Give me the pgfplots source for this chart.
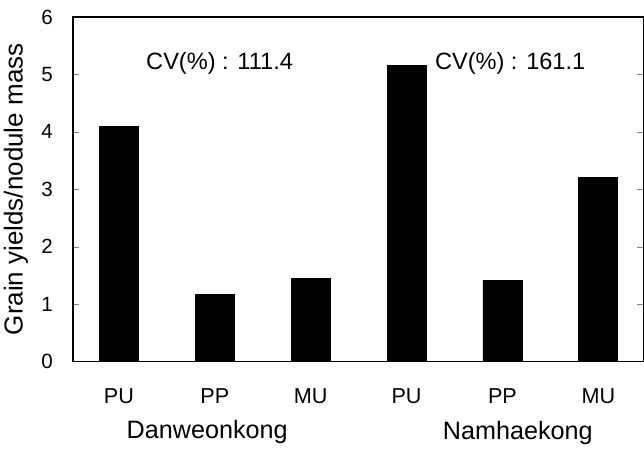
\documentclass[border=0pt]{standalone}
\usepackage{pgfplots}
\pgfplotsset{compat=1.18}
\usepackage{fontspec}
\setmainfont{Liberation Sans}
\begin{document}
\begin{tikzpicture}
\begin{axis}[
  scale only axis,
  width=285.5pt, height=172.5pt,
  xmin=-0.48, xmax=5.47,
  ymin=0, ymax=6,
  ytick={0,1,2,3,4,5,6},
  xtick={0,1,2,3,4,5},
  xticklabels={PU,PP,MU,PU,PP,MU},
  major x tick style={draw=none},
  tick align=inside,
  major tick length=3pt,
  /pgf/number format/assume math mode=true,
  yticklabel style={font=\fontsize{10.3}{13}\selectfont, xshift=-6.5pt},
  xticklabel style={font=\fontsize{10.8}{13}\selectfont, yshift=-10pt},
  axis line style={line width=0.6pt},
  clip=false,
]
\addplot[ybar, bar width=19.5pt, fill=black, draw=black] coordinates {
  (0,4.1) (1,1.17) (2,1.45) (3,5.15) (4,1.41) (5,3.2)
};
\node[font=\fontsize{11.8}{14}\selectfont] at (axis cs:1.05,5.2) {CV(\%) : 111.4};
\node[font=\fontsize{11.8}{14}\selectfont] at (axis cs:4.08,5.2) {CV(\%) : 161.1};
\node[font=\fontsize{12.6}{14}\selectfont, yshift=-35pt] at (axis cs:0.92,0) {Danweonkong};
\node[font=\fontsize{12.6}{14}\selectfont, yshift=-35.5pt] at (axis cs:4.16,0) {Namhaekong};
\node[rotate=90, inner sep=0pt, font=\fontsize{13}{15}\selectfont] at ([xshift=-28.5pt]rel axis cs:0,0.5) {Grain yields/nodule mass};
\path ([xshift=-36.5pt,yshift=-43pt]rel axis cs:0,0) rectangle ([yshift=8.5pt]rel axis cs:1,1);
\end{axis}
\end{tikzpicture}
\end{document}
